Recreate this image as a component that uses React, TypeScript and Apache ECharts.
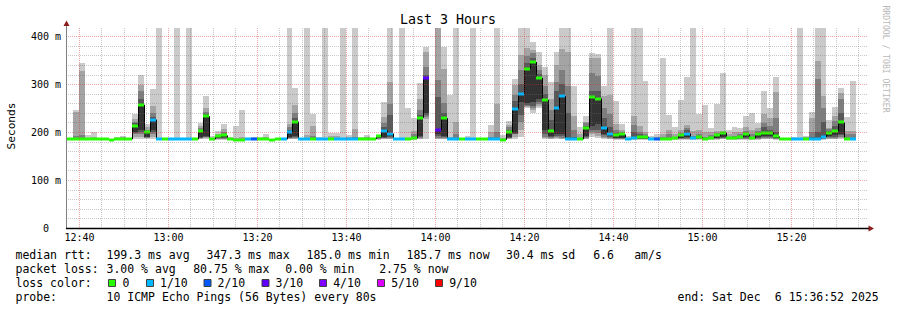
import React, { useEffect, useRef } from "react";
import * as echarts from "echarts";

// ---- time / scale basics ----
const START = 12 * 3600 + 37 * 60 + 18; // 12:37:18, left edge of the plot
const STEP = 80; // seconds per probe round
const SPAN = 3 * 3600;
const Y_MAX = 417;

// ---- tick labels ----
const xTickLabels = ["12:40", "13:00", "13:20", "13:40", "14:00", "14:20", "14:40", "15:00", "15:20"];
const yTickValues = [0, 100, 200, 300, 400];

// ---- median RTT per step (ms), null = no data ----
const median = [
  185, 186, 186, 185, 185, 185, 185, 184, 186, 186,
  185, 212, 257, 201, 226, 185, 185, 185, 185, 185,
  185, 185, 203, 233, 185, 191, 193, 186, 184, 184,
  185, 185, 185, 185, 184, 186, 185, 200, 222, 185,
  186, 186, 185, 185, 185, 185, 185, 185, 185, 185,
  186, 186, 191, 203, 197, 185, 185, 185, 187, 230,
  312, null, 205, 229, 185, 186, 185, 185, 186, 186,
  186, 185, 185, 184, 200, 249, 280, 332, 346, 313,
  267, 202, 250, 275, 185, 185, 185, 209, 273, 270,
  209, 196, 193, 195, 185, 188, 190, 190, 185, 185,
  186, 186, 187, 193, 197, 187, 190, 185, 188, 193,
  199, 187, 187, 190, 195, 187, 195, 199, 199, 191,
  185, 185, 185, 186, 186, 186, 186, 190, 199, 202,
  220, 186, 185,
];

// ---- lost pings (out of 10) per step ----
const lostPings = [
  0, 0, 0, 0, 0, 0, 0, 0, 0, 0,
  0, 0, 0, 0, 1, 1, 0, 1, 1, 1,
  1, 0, 0, 0, 0, 0, 0, 0, 0, 0,
  1, 2, 0, 0, 0, 0, 1, 1, 0, 1,
  1, 0, 1, 1, 0, 1, 1, 1, 1, 0,
  0, 0, 0, 1, 1, 1, 1, 0, 0, 0,
  3, null, 3, 0, 1, 1, 0, 1, 1, 0,
  0, 1, 1, 0, 0, 1, 1, 0, 0, 0,
  0, 0, 1, 1, 1, 1, 0, 0, 0, 0,
  1, 1, 0, 0, 1, 1, 0, 0, 1, 2,
  0, 0, 0, 0, 1, 1, 0, 0, 0, 0,
  0, 0, 0, 0, 0, 0, 0, 0, 0, 0,
  0, 0, 1, 1, 0, 1, 1, 1, 0, 0,
  0, 0, 1,
];

// ---- sorted pings per step (smoke), ping1 = fastest ... ping10 = slowest ----
const ping1 = [
  184, 184, 184, 184, 184, 184, 184, 183, 184, 184,
  184, 185, 186, 185, 185, 184, 184, 184, 184, 184,
  184, 184, 185, 185, 184, 184, 184, 184, 183, 183,
  184, 184, 184, 184, 183, 184, 184, 185, 185, 184,
  184, 184, 184, 184, 184, 184, 184, 184, 184, 184,
  184, 184, 184, 185, 185, 184, 184, 184, 184, 185,
  185, null, 185, 185, 184, 184, 184, 184, 184, 184,
  184, 184, 184, 183, 185, 185, 190, 250, 240, 250,
  185, 185, 185, 185, 184, 184, 184, 185, 190, 188,
  185, 185, 184, 184, 184, 184, 184, 184, 184, 184,
  184, 184, 184, 184, 184, 184, 184, 184, 184, 184,
  185, 184, 184, 184, 184, 184, 184, 185, 185, 184,
  184, 184, 184, 184, 184, 184, 184, 184, 185, 185,
  186, 184, 184,
];
const ping2 = [
  185, 185, 185, 185, 185, 185, 185, 184, 185, 185,
  185, 190, 190, 187, 190, 185, 185, 185, 185, 185,
  185, 185, 186, 187, 185, 185, 185, 185, 184, 184,
  185, 185, 185, 185, 184, 185, 185, 186, 186, 185,
  185, 185, 185, 185, 185, 185, 185, 185, 185, 185,
  185, 185, 185, 186, 186, 185, 185, 185, 185, 186,
  228, null, 186, 186, 185, 185, 185, 185, 185, 185,
  185, 185, 185, 184, 186, 190, 205, 253, 245, 255,
  187, 186, 187, 186, 185, 185, 185, 186, 195, 192,
  187, 186, 185, 185, 185, 185, 185, 185, 185, 185,
  185, 185, 185, 185, 185, 185, 185, 185, 185, 185,
  186, 185, 185, 185, 185, 185, 185, 186, 186, 185,
  185, 185, 185, 185, 185, 185, 185, 185, 186, 186,
  188, 185, 185,
];
const ping3 = [
  185, 185, 185, 185, 185, 185, 185, 184, 185, 185,
  185, 195, 195, 188, 195, 185, 185, 185, 185, 185,
  185, 185, 187, 189, 185, 186, 186, 185, 184, 184,
  185, 185, 185, 185, 184, 185, 185, 187, 188, 185,
  185, 185, 185, 185, 185, 185, 185, 185, 185, 185,
  185, 185, 186, 187, 187, 185, 185, 185, 185, 188,
  232, null, 188, 188, 185, 185, 185, 185, 185, 185,
  185, 185, 185, 184, 187, 195, 220, 255, 250, 258,
  190, 188, 190, 188, 185, 185, 185, 188, 200, 198,
  190, 187, 186, 186, 185, 185, 185, 185, 185, 185,
  185, 185, 185, 186, 186, 185, 186, 185, 185, 186,
  187, 185, 185, 186, 186, 185, 186, 188, 188, 186,
  185, 185, 185, 185, 185, 185, 185, 186, 188, 188,
  190, 185, 185,
];
const ping4 = [
  185, 185, 185, 185, 185, 185, 185, 184, 185, 185,
  185, 198, 200, 189, 200, 185, 185, 185, 185, 185,
  185, 185, 188, 190, 185, 187, 188, 185, 184, 184,
  185, 185, 185, 185, 184, 185, 185, 188, 190, 185,
  185, 185, 185, 185, 185, 185, 185, 185, 185, 185,
  186, 186, 187, 188, 190, 185, 185, 185, 186, 190,
  236, null, 192, 190, 185, 185, 185, 185, 185, 186,
  186, 185, 185, 184, 188, 197, 235, 257, 255, 262,
  196, 190, 192, 192, 185, 185, 185, 190, 205, 205,
  193, 189, 187, 187, 185, 186, 186, 186, 185, 185,
  185, 185, 186, 187, 188, 186, 187, 185, 186, 187,
  188, 186, 186, 187, 187, 186, 187, 190, 190, 187,
  185, 185, 185, 185, 186, 186, 186, 187, 190, 190,
  193, 186, 185,
];
const ping5 = [
  185, 185, 186, 185, 185, 185, 185, 184, 186, 186,
  185, 201, 205, 190, 205, 185, 185, 185, 185, 185,
  185, 185, 190, 192, 185, 188, 190, 185, 184, 184,
  185, 185, 185, 185, 184, 186, 185, 190, 192, 185,
  186, 186, 185, 185, 185, 185, 185, 185, 185, 185,
  186, 186, 188, 190, 192, 185, 185, 185, 186, 192,
  240, null, 196, 192, 185, 186, 185, 185, 186, 186,
  186, 185, 185, 184, 190, 199, 262, 260, 262, 269,
  205, 192, 195, 195, 185, 185, 185, 192, 212, 216,
  196, 191, 188, 188, 185, 186, 187, 187, 185, 185,
  186, 186, 186, 188, 190, 186, 188, 185, 187, 188,
  190, 186, 186, 188, 189, 186, 189, 192, 192, 188,
  185, 185, 185, 186, 186, 186, 186, 188, 192, 194,
  196, 186, 185,
];
const ping6 = [
  185, 186, 186, 185, 185, 185, 185, 184, 186, 186,
  185, 212, 257, 201, 226, 185, 185, 185, 185, 185,
  185, 185, 203, 233, 185, 191, 193, 186, 184, 184,
  185, 185, 185, 185, 184, 186, 185, 200, 222, 185,
  186, 186, 185, 185, 185, 185, 185, 185, 185, 185,
  186, 186, 191, 203, 197, 185, 185, 185, 187, 230,
  312, null, 205, 229, 185, 186, 185, 185, 186, 186,
  186, 185, 185, 184, 200, 249, 280, 332, 346, 313,
  267, 202, 250, 275, 186, 185, 185, 209, 273, 270,
  209, 196, 193, 195, 185, 188, 190, 190, 185, 185,
  186, 186, 187, 193, 197, 187, 190, 185, 188, 193,
  199, 187, 187, 190, 195, 187, 195, 199, 199, 191,
  185, 185, 185, 186, 186, 186, 186, 190, 199, 202,
  220, 186, 185,
];
const ping7 = [
  185, 188, 188, 186, 186, 185, 185, 185, 186, 187,
  185, 218, 268, 203, 232, 186, 185, 185, 186, 185,
  186, 185, 205, 237, 186, 192, 196, 186, 185, 185,
  185, 186, 186, 186, 185, 186, 185, 205, 229, 185,
  187, 188, 186, 186, 186, 186, 186, 186, 186, 186,
  187, 186, 191, 210, 236, 185, 186, 186, 189, 236,
  320, null, 273, 240, 186, 188, 186, 186, 186, 186,
  186, 186, 186, 185, 205, 265, 300, 345, 355, 322,
  280, 225, 285, 300, 240, 190, 186, 213, 285, 285,
  230, 210, 198, 198, 186, 200, 195, 192, 186, 186,
  187, 188, 188, 195, 205, 188, 192, 186, 190, 195,
  200, 188, 188, 192, 198, 190, 198, 210, 205, 200,
  185, 185, 186, 186, 187, 190, 200, 220, 203, 212,
  240, 188, 186,
];
const ping8 = [
  186, 192, 193, 187, 187, 186, 186, 185, 187, 188,
  185, 222, 285, 205, 240, 186, 186, 185, 186, 185,
  186, 185, 208, 242, 187, 194, 200, 187, 186, 186,
  186, 187, 187, 187, 185, 186, 185, 210, 240, 185,
  188, 192, 187, 186, 188, 188, 186, 187, 190, 187,
  188, 187, 192, 218, 259, 185, 186, 187, 195, 245,
  335, null, 308, 260, 187, 195, 186, 187, 187, 186,
  186, 190, 200, 186, 210, 278, 330, 358, 365, 330,
  296, 245, 304, 330, 296, 205, 188, 218, 324, 317,
  250, 237, 205, 200, 187, 215, 200, 195, 187, 187,
  190, 195, 190, 198, 209, 192, 196, 190, 194, 198,
  201, 190, 192, 195, 202, 195, 202, 219, 212, 230,
  185, 185, 187, 187, 188, 200, 310, 250, 206, 223,
  268, 195, 195,
];
const ping9 = [
  186, 242, 328, 188, 190, 186, 186, 185, 187, 189,
  186, 228, 299, 210, 255, 187, 186, 186, 187, 186,
  187, 186, 213, 250, 188, 197, 207, 188, 188, 190,
  186, 188, 188, 190, 186, 186, 186, 216, 257, 186,
  193, 212, 188, 187, 192, 192, 187, 189, 207, 188,
  190, 187, 192, 231, 304, 186, 187, 188, 203, 268,
  368, null, 500, 332, 190, 221, 187, 188, 188, 186,
  186, 200, 258, 188, 214, 299, 360, 376, 372, 340,
  318, 270, 339, 374, 367, 233, 195, 222, 355, 355,
  275, 278, 216, 205, 188, 233, 212, 200, 188, 190,
  195, 205, 195, 204, 214, 202, 205, 200, 200, 202,
  203, 195, 200, 200, 210, 205, 208, 237, 229, 283,
  185, 185, 188, 188, 190, 230, 348, 276, 209, 233,
  282, 202, 202,
];
const ping10 = [
  186, 247, 344, 193, 200, 188, 188, 186, 189, 192,
  186, 237, 318, 216, 289, 500, 187, 186, 500, 186,
  500, 186, 219, 276, 192, 203, 217, 190, 212, 247,
  187, 190, 190, 195, 186, 186, 186, 500, 292, 186,
  500, 237, 190, 500, 198, 198, 500, 194, 500, 190,
  194, 188, 193, 262, 500, 186, 500, 251, 230, 303,
  378, null, 500, 378, 278, 500, 188, 192, 500, 186,
  186, 215, 500, 193, 223, 310, 500, 500, 387, 367,
  335, 305, 367, 500, 500, 296, 210, 233, 365, 362,
  296, 500, 265, 216, 192, 500, 500, 306, 192, 195,
  355, 235, 211, 266, 315, 500, 237, 256, 209, 259,
  324, 204, 211, 209, 233, 239, 219, 285, 251, 315,
  185, 185, 190, 500, 192, 242, 500, 500, 226, 252,
  291, 232, 306,
];

// ---- legend / statistics ----
const lossLevels = [0, 1, 2, 3, 4, 5, 9];
const lossLabels = ["0", "1/10", "2/10", "3/10", "4/10", "5/10", "9/10"];
const lossColors = ["#26ff00", "#00b8ff", "#0059ff", "#5e00ff", "#7e00ff", "#dd00ff", "#ff0000"];
const rttStats = ["199.3 ms avg", "347.3 ms max", "185.0 ms min", "185.7 ms now", "30.4 ms sd", "6.6", "am/s"];
const lossStats = ["3.00 % avg", "80.75 % max", "0.00 % min", "2.75 % now"];
const probeText = "10 ICMP Echo Pings (56 Bytes) every 80s";
const endText = ["end: Sat Dec", "6 15:36:52 2025"];

// ---- style constants ----
const MONO = '"DejaVu Sans Mono", monospace';
const SHADES = ["#cacaca", "#a4a4a4", "#7e7e7e", "#585858", "#323232"];
const MINOR_GRID = "rgba(110,110,110,0.38)";
const MAJOR_GRID = "rgba(225,45,45,0.42)";

const pings = [ping1, ping2, ping3, ping4, ping5, ping6, ping7, ping8, ping9, ping10];

function lossColor(n: number) {
  let c = lossColors[0];
  for (let k = 0; k < lossLevels.length; k++) if (n >= lossLevels[k]) c = lossColors[k];
  return c;
}

function hhmmToSec(s: string) {
  const [h, m] = s.split(":").map(Number);
  return h * 3600 + m * 60;
}

function textEl(text: string, x: number, y: number, size: number, extra: any = {}) {
  return {
    type: "text",
    x,
    y,
    silent: true,
    ...extra,
    style: {
      text,
      fill: extra.fill || "#000",
      font: `${size}px ${MONO}`,
      textAlign: extra.align || "left",
      align: extra.align || "left",
      textVerticalAlign: "middle",
      verticalAlign: "middle",
    },
  };
}

function buildOption() {
  const firstMajor = hhmmToSec(xTickLabels[0]);
  const vTicks: number[] = [];
  for (let t = firstMajor; t <= START + SPAN; t += 300) vTicks.push(t);
  const hTicks: number[] = [];
  for (let v = 20; v <= 400; v += 20) hTicks.push(v);

  const smokeData = median.map((m, i) => [START + i * STEP, m == null ? 0 : m]);

  const renderSmoke = (params: any, api: any) => {
    const i = params.dataIndex;
    const m = median[i];
    if (m == null) return null;
    const t0 = START + i * STEP;
    const t1 = t0 + STEP;
    const x0 = Math.round(api.coord([t0, 0])[0]);
    const x1 = Math.round(api.coord([t1, 0])[0]);
    const Y = (v: number) => api.coord([t0, Math.max(0, Math.min(Y_MAX, v))])[1];
    const children: any[] = [];
    for (let b = 0; b < 5; b++) {
      const lo = pings[b][i];
      const hi = pings[9 - b][i];
      if (lo == null || hi == null || hi <= lo) continue;
      const yt = Math.round(Y(hi));
      const yb = Math.round(Y(lo));
      if (yb - yt < 1) continue;
      children.push({
        type: "rect",
        shape: { x: x0, y: yt, width: x1 - x0, height: yb - yt },
        style: { fill: SHADES[b] },
      });
    }
    const ym = Y(m);
    const prev = i > 0 ? median[i - 1] : null;
    if (prev != null) {
      const yp = Y(prev);
      if (Math.abs(yp - ym) > 0.5) {
        children.push({
          type: "line",
          shape: { x1: x0 + 0.5, y1: yp, x2: x0 + 0.5, y2: ym },
          style: { stroke: "#000", lineWidth: 1 },
        });
      }
    }
    children.push({
      type: "rect",
      shape: { x: x0, y: Math.round(ym) - 1.5, width: x1 - x0, height: 3 },
      style: { fill: lossColor(lostPings[i] as number) },
    });
    return { type: "group", children };
  };

  const renderVGrid = (params: any, api: any) => {
    const t = vTicks[params.dataIndex];
    const x = Math.round(api.coord([t, 0])[0]) + 0.5;
    const yb = api.coord([t, 0])[1];
    const yt = api.coord([t, Y_MAX])[1];
    const major = (t - firstMajor) % 1200 === 0;
    const children: any[] = [
      {
        type: "line",
        shape: { x1: x, y1: yt, x2: x, y2: yb - 1 },
        style: { stroke: major ? MAJOR_GRID : MINOR_GRID, lineWidth: 1, lineDash: [1, 1] },
      },
    ];
    if (major) {
      const label = xTickLabels[(t - firstMajor) / 1200];
      if (label) {
        children.push({
          type: "text",
          x: x,
          y: 237,
          style: {
            text: label,
            fill: "#000",
            font: `10px ${MONO}`,
            textAlign: "center",
            align: "center",
            textVerticalAlign: "middle",
            verticalAlign: "middle",
          },
        });
      }
    }
    return { type: "group", children };
  };

  const renderHGrid = (params: any, api: any) => {
    const v = hTicks[params.dataIndex];
    const y = Math.round(api.coord([START, v])[1]) + 0.5;
    const xl = api.coord([START, v])[0];
    const xr = api.coord([START + SPAN, v])[0];
    const major = v % 100 === 0;
    return {
      type: "line",
      shape: { x1: xl + 1, y1: y, x2: xr, y2: y },
      style: { stroke: major ? MAJOR_GRID : MINOR_GRID, lineWidth: 1, lineDash: [1, 1] },
    };
  };

  // ---- graphic: axes, arrows, texts, legend ----
  const g: any[] = [];
  g.push({
    type: "line",
    silent: true,
    shape: { x1: 66.5, y1: 228.5, x2: 66.5, y2: 25 },
    style: { stroke: "#808080", lineWidth: 1 },
  });
  g.push({
    type: "line",
    silent: true,
    shape: { x1: 66, y1: 228.5, x2: 870, y2: 228.5 },
    style: { stroke: "#000", lineWidth: 1.4 },
  });
  g.push({
    type: "polygon",
    silent: true,
    shape: { points: [[868.5, 225.5], [874, 228.5], [868.5, 231.5]] },
    style: { fill: "#8a1c1c" },
  });
  g.push({
    type: "polygon",
    silent: true,
    shape: { points: [[63.5, 26], [66.5, 20.5], [69.5, 26]] },
    style: { fill: "#8a1c1c" },
  });

  g.push(textEl("Last 3 Hours", 448, 19.5, 13.3, { align: "center" }));
  g.push(textEl("Seconds", 11, 126, 11.2, { align: "center", rotation: Math.PI / 2 }));
  g.push(textEl("RRDTOOL / TOBI OETIKER", 886, 59, 8.1, { align: "center", rotation: -Math.PI / 2, fill: "#b8b8b8" }));

  // line 1
  const rttX = [106.5, 206.5, 306.5, 406.5, 506, 593.2, 634.2];
  g.push(textEl("median rtt:", 15.5, 254.5, 11.5));
  rttStats.forEach((s, k) => g.push(textEl(s, rttX[k], 254.5, 11.5)));
  // line 2
  const lossX = [106.5, 193.2, 285.2, 379.2];
  g.push(textEl("packet loss:", 15.5, 268.8, 11.5));
  lossStats.forEach((s, k) => g.push(textEl(s, lossX[k], 268.8, 11.5)));
  // line 3
  g.push(textEl("loss color:", 15.5, 283, 11.5));
  const boxX = [108, 146, 203.5, 261.5, 319, 377, 435];
  const boxLabelX = [122.5, 160, 217.5, 275.5, 333.2, 391.2, 449.2];
  lossLabels.forEach((lab, k) => {
    g.push({
      type: "rect",
      silent: true,
      shape: { x: boxX[k] + 0.5, y: 279.5, width: 7, height: 7 },
      style: { fill: lossColors[k], stroke: "#404040", lineWidth: 1 },
    });
    g.push(textEl(lab, boxLabelX[k], 283, 11.5));
  });
  // line 4
  g.push(textEl("probe:", 15.5, 297, 11.5));
  g.push(textEl(probeText, 106.5, 297, 11.5));
  g.push(textEl(endText[0], 677.5, 297, 11.5));
  g.push(textEl(endText[1], 774.8, 297, 11.5));

  return {
    animation: false,
    backgroundColor: "#ffffff",
    grid: {
      left: 67,
      top: 28,
      width: 801,
      height: 200,
      containLabel: false,
      outerBoundsMode: "none",
      show: false,
    },
    xAxis: {
      type: "value",
      min: START,
      max: START + SPAN,
      show: false,
    },
    yAxis: {
      type: "value",
      min: 0,
      max: Y_MAX,
      interval: 100,
      axisLine: { show: false },
      axisTick: { show: false },
      splitLine: { show: false },
      axisLabel: {
        margin: 6,
        color: "#000",
        fontFamily: MONO,
        fontSize: 10,
        formatter: (v: number) => {
          if (!yTickValues.includes(v)) return "";
          return v === 0 ? "0\u00a0\u00a0" : `${v} m`;
        },
      },
    },
    series: [
      {
        type: "custom",
        name: "smoke",
        data: smokeData,
        renderItem: renderSmoke,
        clip: true,
        silent: true,
      },
      {
        type: "custom",
        name: "vgrid",
        data: vTicks.map((t) => [t, 0]),
        renderItem: renderVGrid,
        clip: false,
        silent: true,
      },
      {
        type: "custom",
        name: "hgrid",
        data: hTicks.map((v) => [START, v]),
        renderItem: renderHGrid,
        clip: false,
        silent: true,
      },
    ],
    graphic: { elements: g },
  };
}

export default function App() {
  const ref = useRef<HTMLDivElement>(null);
  useEffect(() => {
    if (!ref.current) return;
    const chart = echarts.init(ref.current, null, { renderer: "svg" });
    chart.setOption(buildOption() as any);
    return () => chart.dispose();
  }, []);
  return (
    <div
      ref={ref}
      style={{ position: "fixed", left: 0, top: 0, width: 897, height: 310, background: "#fff" }}
    />
  );
}
